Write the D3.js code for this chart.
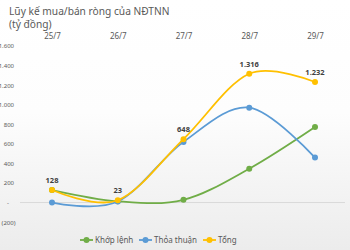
<!DOCTYPE html>
<html>
<head>
<meta charset="utf-8">
<script src="https://cdn.jsdelivr.net/npm/d3@7"></script>
<style>
  body { margin: 0; background: #fff; }
  svg { display: block; font-family: "Noto Sans", "Open Sans", sans-serif; }
</style>
</head>
<body>
<div id="container"></div>
<script>
/* DATA */
const dates = ["25/7", "26/7", "27/7", "28/7", "29/7"];
const khopLenh = [128, 13, 28, 346, 772];
const thoaThuan = [0, 10, 620, 970, 460];
const tong = [128, 23, 648, 1316, 1232];
const yTicks = [-200, 0, 200, 400, 600, 800, 1000, 1200, 1400, 1600];

const seriesNames = ["Khớp lệnh", "Thỏa thuận", "Tổng"];
const colors = ["#70AD47", "#5B9BD5", "#FFC000"];

/* SIZES */
const width = 350, height = 250;

const svg = d3.select("#container").append("svg")
  .attr("width", width)
  .attr("height", height);

// background gradient, white at top to light gray at bottom
const grad = svg.append("defs").append("linearGradient")
  .attr("id", "bg").attr("x1", 0).attr("y1", 0).attr("x2", 0).attr("y2", 1);
grad.append("stop").attr("offset", "0%").attr("stop-color", "#ffffff");
grad.append("stop").attr("offset", "45%").attr("stop-color", "#fdfdfd");
grad.append("stop").attr("offset", "100%").attr("stop-color", "#ececec");
svg.append("rect").attr("width", width).attr("height", height).attr("fill", "url(#bg)");

// title
svg.append("text").attr("x", 9).attr("y", 15)
  .attr("font-size", 10.2).attr("fill", "#595959")
  .text("Lũy kế mua/bán ròng của NĐTNN");
svg.append("text").attr("x", 9).attr("y", 28)
  .attr("font-size", 10.2).attr("fill", "#595959")
  .text("(tỷ đồng)");

/* SCALES */
const xScale = d3.scalePoint().domain(dates).range([52, 315]);
const yScale = d3.scaleLinear().domain([-200, 1600]).range([222.1, 46]);

// zero line
svg.append("line")
  .attr("x1", 20).attr("x2", 345)
  .attr("y1", yScale(0)).attr("y2", yScale(0))
  .attr("stroke", "#d9d9d9").attr("stroke-width", 1);

/* AXES */
const fmt = v => {
  if (v === 0) return "-";
  const s = d3.format(",")(Math.abs(v)).replace(/,/g, ".");
  return v < 0 ? "(" + s + ")" : s;
};

const yAxis = svg.append("g")
  .attr("transform", "translate(15,0)")
  .call(d3.axisLeft(yScale).tickValues(yTicks).tickSize(0).tickPadding(0).tickFormat(fmt));
yAxis.select(".domain").remove();
yAxis.selectAll("text")
  .attr("font-size", 6).attr("fill", "#595959")
  .attr("font-family", "\"Noto Sans\", sans-serif")
  .attr("dx", d => d < 0 ? 0.5 : (d === 0 ? -6 : -1));

const xAxis = svg.append("g")
  .attr("transform", "translate(0,39)")
  .call(d3.axisTop(xScale).tickSize(0).tickPadding(0));
xAxis.select(".domain").remove();
xAxis.selectAll("text")
  .attr("font-size", 8).attr("fill", "#595959")
  .attr("font-family", "\"Noto Sans\", sans-serif");

/* LINES */
const allSeries = [khopLenh, thoaThuan, tong];
const line = d3.line()
  .x((d, i) => xScale(dates[i]))
  .y(d => yScale(d))
  .curve(d3.curveCardinal.tension(0));

allSeries.forEach((vals, k) => {
  svg.append("path")
    .datum(vals)
    .attr("d", line)
    .attr("fill", "none")
    .attr("stroke", colors[k])
    .attr("stroke-width", 1.8);
  svg.selectAll(".pt" + k)
    .data(vals)
    .join("circle")
    .attr("class", "pt" + k)
    .attr("cx", (d, i) => xScale(dates[i]))
    .attr("cy", d => yScale(d))
    .attr("r", 3)
    .attr("fill", colors[k]);
});

// data labels for total
svg.selectAll(".lbl")
  .data(tong)
  .join("text")
  .attr("class", "lbl")
  .attr("x", (d, i) => xScale(dates[i]))
  .attr("y", d => yScale(d) - 7)
  .attr("text-anchor", "middle")
  .attr("font-size", 7.5).attr("font-weight", "bold")
  .attr("fill", "#404040")
  .text(d => d3.format(",")(d).replace(/,/g, "."));

/* LEGEND */
const legendX = [80, 139, 203];
const legend = svg.append("g").attr("transform", "translate(0,240)");
seriesNames.forEach((name, k) => {
  const g = legend.append("g").attr("transform", `translate(${legendX[k]},0)`);
  g.append("line").attr("x1", 0).attr("x2", 13).attr("y1", 0).attr("y2", 0)
    .attr("stroke", colors[k]).attr("stroke-width", 1.8);
  g.append("circle").attr("cx", 6.5).attr("cy", 0).attr("r", 3).attr("fill", colors[k]);
  g.append("text").attr("x", 15).attr("y", 3)
    .attr("font-size", 8).attr("fill", "#595959")
    .text(name);
});
</script>
</body>
</html>
